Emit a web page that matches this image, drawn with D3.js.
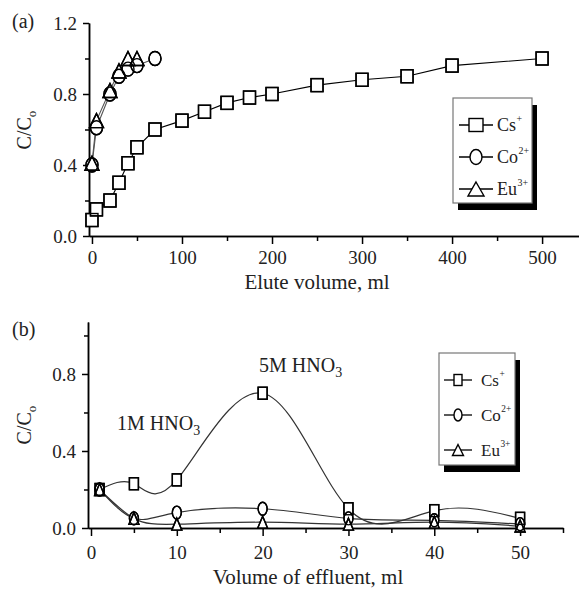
<!DOCTYPE html>
<html><head><meta charset="utf-8">
<script src="https://cdn.jsdelivr.net/npm/d3@7"></script>
<style>
body{margin:0;background:#fff;}
svg{display:block;font-family:"Liberation Serif","Times New Roman",serif;}
</style></head>
<body><svg id="c" width="579" height="591"></svg>
<script>
// ---- Panel (a) data ----
const csVolA = [0,5,20,30,40,50,70,100,125,150,175,200,250,300,350,400,500];
const csA    = [0.09,0.15,0.20,0.30,0.41,0.50,0.60,0.65,0.70,0.75,0.78,0.80,0.85,0.88,0.90,0.96,1.00];
const coVolA = [0,5,20,30,40,50,70];
const coA    = [0.40,0.61,0.80,0.90,0.94,0.96,1.00];
const euVolA = [0,5,20,30,40,50];
const euA    = [0.41,0.65,0.82,0.93,1.00,1.00];
const xTicksA = [0,100,200,300,400,500];
const xMinorA = [50,150,250,350,450];
const yTicksA = [0,0.4,0.8,1.2];
const yMinorA = [0.2,0.6,1.0];
// ---- Panel (b) data ----
const volB = [1,5,10,20,30,40,50];
const csB  = [0.20,0.23,0.25,0.70,0.10,0.09,0.05];
const coB  = [0.20,0.05,0.08,0.10,0.05,0.04,0.02];
const euB  = [0.20,0.05,0.02,0.03,0.02,0.03,0.01];
const xTicksB = [0,10,20,30,40,50];
const xMinorB = [5,15,25,35,45,55];
const yTicksB = [0,0.4,0.8];
const yMinorB = [0.2,0.6,1.0];
const seriesNames = [["Cs","+"],["Co","2+"],["Eu","3+"]];
const annotations = [["1M HNO","3"],["5M HNO","3"]];

const svg = d3.select("#c");
const FONT = '"Liberation Serif","Times New Roman",serif';

function marker(g, shape, cx, cy, w, h, fill){
  let el;
  if(shape==="sq") el = g.append("rect").attr("x",cx-w/2).attr("y",cy-h/2).attr("width",w).attr("height",h);
  else if(shape==="ci") el = g.append("ellipse").attr("cx",cx).attr("cy",cy).attr("rx",w/2).attr("ry",h/2);
  else el = g.append("path").attr("d",`M${cx},${cy-h/2}L${cx+w/2},${cy+h/2}L${cx-w/2},${cy+h/2}Z`);
  el.attr("fill",fill).attr("stroke","#000").attr("stroke-width",1.4);
  return el;
}

function axes(g, x, y, xt, xm, yt, ym, xLabelPad){
  const xa = g.append("g").attr("transform",`translate(0,${y.range()[0]})`)
    .call(d3.axisBottom(x).tickValues(xt).tickSize(8).tickPadding(xLabelPad).tickSizeOuter(0).tickFormat(d3.format("d")));
  const xm2 = g.append("g").attr("transform",`translate(0,${y.range()[0]})`)
    .call(d3.axisBottom(x).tickValues(xm).tickSize(5).tickFormat("").tickSizeOuter(0));
  const ya = g.append("g").attr("transform",`translate(${x.range()[0]},0)`)
    .call(d3.axisLeft(y).tickValues(yt).tickSize(6).tickPadding(6).tickSizeOuter(0).tickFormat(d3.format(".1f")));
  const ym2 = g.append("g").attr("transform",`translate(${x.range()[0]},0)`)
    .call(d3.axisLeft(y).tickValues(ym).tickSize(4).tickFormat("").tickSizeOuter(0));
  [xa,xm2,ya,ym2].forEach(a=>{
    a.selectAll("path,line").attr("stroke","#000").attr("stroke-width",1.5);
    a.selectAll("text").attr("font-family",FONT).attr("font-size",19).attr("fill","#222");
  });
}

function legend(g, bx, by, bw, bh, rowY, dashX, textX, fs, sizes){
  g.append("rect").attr("x",bx+5).attr("y",by+7).attr("width",bw).attr("height",bh).attr("fill","#000");
  g.append("rect").attr("x",bx).attr("y",by).attr("width",bw).attr("height",bh).attr("fill","#fff").attr("stroke","#777").attr("stroke-width",1.2);
  const shapes=["sq","ci","tr"];
  seriesNames.forEach((s,i)=>{
    const cy = rowY[i];
    const cx = (dashX[0]+dashX[1])/2;
    g.append("line").attr("x1",dashX[0]).attr("x2",dashX[1]).attr("y1",cy).attr("y2",cy).attr("stroke","#000").attr("stroke-width",1.3);
    marker(g, shapes[i], cx, cy, sizes[i][0], sizes[i][1], "#fff");
    const t = g.append("text").attr("x",textX).attr("y",cy+fs*0.33).attr("font-family",FONT).attr("font-size",fs).attr("fill","#222");
    t.append("tspan").text(s[0]);
    t.append("tspan").attr("dx",0.5).attr("dy",-fs*0.5).attr("font-size",fs*0.55).text(s[1]);
  });
}

// ================= Panel (a) =================
const xA = d3.scaleLinear().domain([-3.3,541]).range([89,579]);
const yA = d3.scaleLinear().domain([0,1.2]).range([236,23]);
const gA = svg.append("g");
axes(gA, xA, yA, xTicksA, xMinorA, yTicksA, yMinorA, 7);

const lineA = d3.line().x(d=>xA(d[0])).y(d=>yA(d[1]));
const ptsCsA = csVolA.map((v,i)=>[v,csA[i]]);
const ptsCoA = coVolA.map((v,i)=>[v,coA[i]]);
const ptsEuA = euVolA.map((v,i)=>[v,euA[i]]);
gA.append("path").attr("d",lineA(ptsCsA)).attr("fill","none").attr("stroke","#000").attr("stroke-width",1.1);
gA.append("path").attr("d",lineA(ptsCoA)).attr("fill","none").attr("stroke","#555").attr("stroke-width",1.1);
gA.append("path").attr("d",lineA(ptsEuA)).attr("fill","none").attr("stroke","#555").attr("stroke-width",1.1);
const mA = [["sq",ptsCsA,12,13],["ci",ptsCoA,12,14],["tr",ptsEuA,14,14]];
mA.forEach(([sh,pts,w,h])=>{ pts.forEach(p=>marker(gA,sh,xA(p[0]),yA(p[1]),w,h,"#fff")); });
mA.forEach(([sh,pts,w,h])=>{ pts.forEach(p=>marker(gA,sh,xA(p[0]),yA(p[1]),w,h,"none")); });

legend(gA, 453, 98, 79, 105, [125,157,189], [459,493], 497, 18, [[14,13],[12,15],[16,14]]);

gA.append("text").attr("x",12).attr("y",28).attr("font-family",FONT).attr("font-size",20).attr("fill","#222").text("(a)");
const ytA = gA.append("text").attr("transform","translate(31,130) rotate(-90)").attr("text-anchor","middle")
  .attr("font-family",FONT).attr("font-size",20).attr("fill","#222");
ytA.append("tspan").text("C/C");
ytA.append("tspan").attr("dy",5).attr("font-size",13).text("o");
gA.append("text").attr("x",317).attr("y",289).attr("text-anchor","middle").attr("font-family",FONT).attr("font-size",21).attr("fill","#222").text("Elute volume, ml");

// ================= Panel (b) =================
const xB = d3.scaleLinear().domain([-0.35,55]).range([88,563]);
const yB = d3.scaleLinear().domain([0,1.07]).range([528,322]);
const gB = svg.append("g");
axes(gB, xB, yB, xTicksB, xMinorB, yTicksB, yMinorB, 10);

const lineB = d3.line().x(d=>xB(d[0])).y(d=>yB(d[1])).curve(d3.curveNatural);
const sB = [["sq",csB,9,12],["ci",coB,9,13],["tr",euB,10,12]];
sB.forEach(([sh,vals])=>{
  gB.append("path").attr("d",lineB(volB.map((v,i)=>[v,vals[i]]))).attr("fill","none").attr("stroke","#333").attr("stroke-width",1.2);
});
sB.forEach(([sh,vals,w,h])=>{ volB.forEach((v,i)=>marker(gB,sh,xB(v),yB(vals[i]),w,h,"#fff")); });
sB.forEach(([sh,vals,w,h])=>{ volB.forEach((v,i)=>marker(gB,sh,xB(v),yB(vals[i]),w,h,"none")); });

legend(gB, 439, 353, 76, 112, [380,415,450], [444,472], 481, 17, [[8,11],[8,12],[11,11]]);

gB.append("text").attr("x",12).attr("y",336).attr("font-family",FONT).attr("font-size",20).attr("fill","#222").text("(b)");
const ytB = gB.append("text").attr("transform","translate(31,425) rotate(-90)").attr("text-anchor","middle")
  .attr("font-family",FONT).attr("font-size",20).attr("fill","#222");
ytB.append("tspan").text("C/C");
ytB.append("tspan").attr("dy",5).attr("font-size",13).text("o");
gB.append("text").attr("x",308).attr("y",584).attr("text-anchor","middle").attr("font-family",FONT).attr("font-size",21).attr("fill","#222").text("Volume of effluent, ml");

const annPos = [[117,430],[259,372]];
annotations.forEach((a,i)=>{
  const t = gB.append("text").attr("x",annPos[i][0]).attr("y",annPos[i][1]).attr("font-family",FONT).attr("font-size",20).attr("fill","#222");
  t.append("tspan").text(a[0]);
  t.append("tspan").attr("dy",5).attr("font-size",14).text(a[1]);
});
</script></body></html>
